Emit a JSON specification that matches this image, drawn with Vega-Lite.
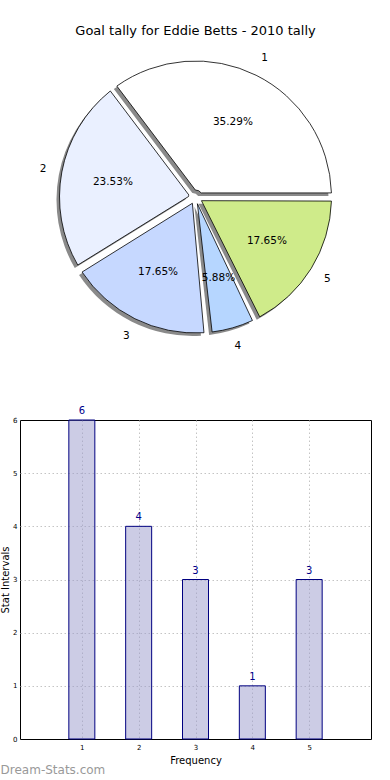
{
  "$schema": "https://vega.github.io/schema/vega-lite/v6.json",
  "padding": {"left": 0, "top": 25, "right": 0, "bottom": 0},
  "background": "white",
  "bounds": "flush",
  "spacing": 69,
  "config": {
    "font": "DejaVu Sans",
    "axis": {
      "grid": true,
      "gridDash": [1.5, 2.5],
      "gridColor": "#c4c4c4",
      "gridWidth": 1,
      "domain": false,
      "ticks": false,
      "labelFontSize": 7,
      "labelColor": "black",
      "labelPadding": 3,
      "titleFontSize": 10,
      "titleFontWeight": "normal",
      "titleColor": "black",
      "titlePadding": 2
    }
  },
  "datasets": {
    "goals": [
      {"interval": 1, "count": 6, "pct": "35.29%"},
      {"interval": 2, "count": 4, "pct": "23.53%"},
      {"interval": 3, "count": 3, "pct": "17.65%"},
      {"interval": 4, "count": 1, "pct": "5.88%"},
      {"interval": 5, "count": 3, "pct": "17.65%"}
    ]
  },
  "vconcat": [
    {
      "width": 351,
      "height": 308,
      "view": {"stroke": null},
      "title": {
        "text": "Goal tally for Eddie Betts - 2010 tally",
        "fontSize": 13,
        "fontWeight": "normal",
        "color": "black",
        "offset": 5,
        "frame": "group",
        "anchor": "middle"
      },
      "data": {"name": "goals"},
      "encoding": {
        "theta": {
          "field": "count",
          "type": "quantitative",
          "stack": true,
          "scale": {"range": [1.5707963, 7.8539816]}
        },
        "order": {"field": "interval", "sort": "descending"}
      },
      "layer": [
        {
          "mark": {"type": "arc", "outerRadius": 136, "innerRadius": 7, "padAngle": 0.06, "fill": "#8a8a8a", "xOffset": -3, "yOffset": 3}
        },
        {
          "mark": {"type": "arc", "outerRadius": 136, "innerRadius": 7, "padAngle": 0.06, "stroke": "black", "strokeWidth": 0.8},
          "encoding": {
            "color": {
              "field": "interval",
              "type": "nominal",
              "scale": {"domain": [1, 2, 3, 4, 5], "range": ["#ffffff", "#eaf0ff", "#c6d8ff", "#b6d6ff", "#cfeb8a"]},
              "legend": null
            }
          }
        },
        {
          "mark": {"type": "text", "radius": 84, "fontSize": 10.5, "color": "black"},
          "encoding": {"text": {"field": "pct", "type": "nominal"}}
        },
        {
          "mark": {"type": "text", "radius": 155, "fontSize": 10.5, "color": "black"},
          "encoding": {"text": {"field": "interval", "type": "nominal"}}
        }
      ]
    },
    {
      "width": 351,
      "height": 319,
      "view": {"stroke": "black", "strokeWidth": 1},
      "title": {
        "text": "Dream-Stats.com",
        "orient": "bottom",
        "anchor": "start",
        "frame": "bounds",
        "fontSize": 12,
        "fontWeight": "normal",
        "color": "#999999",
        "offset": 0
      },
      "data": {"name": "goals"},
      "encoding": {
        "x": {
          "field": "interval",
          "type": "quantitative",
          "scale": {"domain": [0, 6], "nice": false},
          "axis": {"values": [1, 2, 3, 4, 5], "title": "Frequency", "labelPadding": 4, "titlePadding": 5}
        },
        "y": {
          "field": "count",
          "type": "quantitative",
          "scale": {"domain": [0, 6], "nice": false},
          "axis": {
            "values": [0, 1, 2, 3, 4, 5, 6],
            "title": "Stat Intervals",
            "gridOpacity": {"condition": {"test": "datum.value == 0 || datum.value == 6", "value": 0}, "value": 1}
          }
        }
      },
      "layer": [
        {
          "mark": {"type": "bar", "width": 26, "fill": "#9999cc", "fillOpacity": 0.5, "stroke": "#000080", "strokeWidth": 1}
        },
        {
          "mark": {"type": "text", "dy": -9, "fontSize": 10, "color": "#00008b"},
          "encoding": {"text": {"field": "count", "type": "quantitative"}}
        }
      ]
    }
  ]
}
